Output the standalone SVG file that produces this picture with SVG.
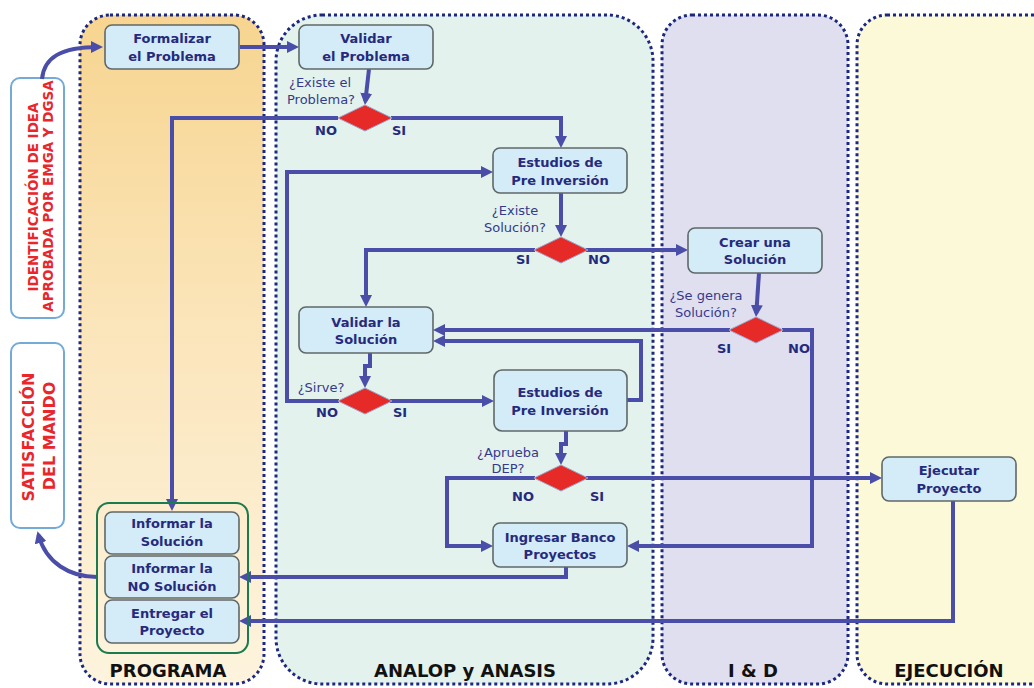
<svg xmlns="http://www.w3.org/2000/svg" width="1034" height="688" viewBox="0 0 1034 688">
<defs>
<linearGradient id="gProg" x1="0" y1="0" x2="0" y2="1">
<stop offset="0" stop-color="#f7d590"/>
<stop offset="0.5" stop-color="#fbe6bd"/>
<stop offset="1" stop-color="#fdf4de"/>
</linearGradient>
<marker id="arr" viewBox="0 0 12 12" markerWidth="12" markerHeight="12" refX="8" refY="6" orient="auto" markerUnits="userSpaceOnUse">
<path d="M0,0 L12,6 L0,12 z" fill="#4a4ea8"/>
</marker>
<style>
.lane{stroke:#1c2880;stroke-width:3;stroke-dasharray:3 3}
.title{font-family:"DejaVu Sans",Verdana,sans-serif;font-weight:bold;font-size:18px;fill:#111;text-anchor:middle}
.node rect{fill:#d4ebf8;stroke:#5f6868;stroke-width:1.6}
.nt{font-family:"DejaVu Sans",Verdana,sans-serif;font-weight:bold;font-size:13px;fill:#262a7c;text-anchor:middle}
.q{font-family:"DejaVu Sans",Verdana,sans-serif;font-size:13px;fill:#363a8c;text-anchor:middle}
.yn{font-family:"DejaVu Sans",Verdana,sans-serif;font-weight:bold;font-size:13px;fill:#262a7c}
.dia{fill:#e62a28;stroke:#9aa6cc;stroke-width:1}
.side rect{fill:#ffffff;stroke:#74aad8;stroke-width:2}
.st{font-family:"DejaVu Sans",Verdana,sans-serif;font-weight:bold;fill:#e8262b;text-anchor:middle}
.c{fill:none;stroke:#4a4ea8;stroke-width:4;marker-end:url(#arr)}
.cn{fill:none;stroke:#4a4ea8;stroke-width:4}
</style>
</defs>
<rect width="1034" height="688" fill="#ffffff"/>

<g id="lane-programa">
<rect class="lane" x="80" y="15" width="184" height="669" rx="30" fill="url(#gProg)"/>
<text class="title" x="168" y="677">PROGRAMA</text>
</g>
<g id="lane-analop">
<rect class="lane" x="276" y="15" width="377" height="669" rx="46" fill="#e3f2ec"/>
<text class="title" x="465" y="677">ANALOP y ANASIS</text>
</g>
<g id="lane-id">
<rect class="lane" x="662" y="15" width="186" height="669" rx="30" fill="#dfdff0"/>
<text class="title" x="753" y="677">I &amp; D</text>
</g>
<g id="lane-ejecucion">
<rect class="lane" x="857" y="15" width="210" height="669" rx="30" fill="#fbf9d8"/>
<text class="title" x="949" y="677">EJECUCIÓN</text>
</g>

<g id="side-identificacion" class="side">
<rect x="11" y="78" width="53" height="240" rx="9"/>
<text class="st" font-size="13.5" transform="translate(38,197) rotate(-90)">IDENTIFICACIÓN DE IDEA</text>
<text class="st" font-size="13.5" transform="translate(53,196) rotate(-90)">APROBADA POR EMGA Y DGSA</text>
</g>
<g id="side-satisfaccion" class="side">
<rect x="11" y="343" width="53" height="185" rx="9"/>
<text class="st" font-size="16" transform="translate(34,437) rotate(-90)">SATISFACCIÓN</text>
<text class="st" font-size="16" transform="translate(55,436) rotate(-90)">DEL MANDO</text>
</g>

<g id="connectors">
<path class="c" d="M42,79 C44,58 60,47 99,47"/>
<path class="c" d="M240,47 H295"/>
<path class="c" d="M369,69 L365.4,101"/>
<path class="c" d="M338,118 H172 V507"/>
<path class="c" d="M391,118 H561 V144"/>
<path class="c" d="M339,401 H287 V172 H489"/>
<path class="c" d="M561,193 V233"/>
<path class="c" d="M535,250 H366 V303"/>
<path class="c" d="M586,250 H684"/>
<path class="c" d="M759,273 L756.3,313"/>
<path class="c" d="M730,330 H437"/>
<path class="c" d="M782,330 H812 V546 H631"/>
<path class="c" d="M627,400 H641 V341 H437"/>
<path class="c" d="M370,353 V366 H365 V384"/>
<path class="c" d="M390,401 H490"/>
<path class="c" d="M566,431 V444 H561 V461"/>
<path class="c" d="M535,478 H447 V546 H489"/>
<path class="c" d="M586,478 H878"/>
<path class="c" d="M566,567 V577 H243"/>
<path class="c" d="M953,501 V621 H243"/>
<path class="c" d="M97,577 C70,577 46,563 38.5,535"/>
</g>

<g id="d-existe-problema">
<polygon class="dia" points="338,118 365,105 392,118 365,131"/>
<text class="q" x="320" y="87">¿Existe el</text>
<text class="q" x="321" y="104">Problema?</text>
<text class="yn" x="315" y="135">NO</text>
<text class="yn" x="392" y="135">SI</text>
</g>
<g id="d-existe-solucion">
<polygon class="dia" points="534,250 561,237 588,250 561,263"/>
<text class="q" x="515" y="215">¿Existe</text>
<text class="q" x="515" y="232">Solución?</text>
<text class="yn" x="516" y="264">SI</text>
<text class="yn" x="588" y="264">NO</text>
</g>
<g id="d-sirve">
<polygon class="dia" points="338,401 365,388 392,401 365,414"/>
<text class="q" x="321" y="392">¿Sirve?</text>
<text class="yn" x="316" y="417">NO</text>
<text class="yn" x="393" y="417">SI</text>
</g>
<g id="d-se-genera">
<polygon class="dia" points="729,330 756,317 783,330 756,343"/>
<text class="q" x="706" y="300">¿Se genera</text>
<text class="q" x="706" y="317">Solución?</text>
<text class="yn" x="717" y="353">SI</text>
<text class="yn" x="788" y="353">NO</text>
</g>
<g id="d-aprueba">
<polygon class="dia" points="534,478 561,465 588,478 561,491"/>
<text class="q" x="508" y="457">¿Aprueba</text>
<text class="q" x="508" y="473">DEP?</text>
<text class="yn" x="512" y="501">NO</text>
<text class="yn" x="590" y="501">SI</text>
</g>

<g id="n-formalizar" class="node">
<rect x="105" y="25" width="134" height="44" rx="7"/>
<text class="nt" x="172" y="43">Formalizar</text>
<text class="nt" x="172" y="61">el Problema</text>
</g>
<g id="n-validar-problema" class="node">
<rect x="299" y="25" width="134" height="44" rx="7"/>
<text class="nt" x="366" y="43">Validar</text>
<text class="nt" x="366" y="61">el Problema</text>
</g>
<g id="n-estudios-1" class="node">
<rect x="493" y="148" width="134" height="45" rx="7"/>
<text class="nt" x="560" y="167">Estudios de</text>
<text class="nt" x="560" y="185">Pre Inversión</text>
</g>
<g id="n-crear-solucion" class="node">
<rect x="688" y="228" width="134" height="45" rx="7"/>
<text class="nt" x="755" y="247">Crear una</text>
<text class="nt" x="755" y="264">Solución</text>
</g>
<g id="n-validar-solucion" class="node">
<rect x="299" y="307" width="134" height="46" rx="7"/>
<text class="nt" x="366" y="327">Validar la</text>
<text class="nt" x="366" y="344">Solución</text>
</g>
<g id="n-estudios-2" class="node">
<rect x="494" y="370" width="133" height="61" rx="8"/>
<text class="nt" x="560" y="397">Estudios de</text>
<text class="nt" x="560" y="415">Pre Inversión</text>
</g>
<g id="n-ingresar-banco" class="node">
<rect x="493" y="523" width="134" height="44" rx="7"/>
<text class="nt" x="560" y="542">Ingresar Banco</text>
<text class="nt" x="560" y="559">Proyectos</text>
</g>
<g id="n-ejecutar" class="node">
<rect x="882" y="457" width="134" height="44" rx="7"/>
<text class="nt" x="949" y="475">Ejecutar</text>
<text class="nt" x="949" y="493">Proyecto</text>
</g>

<g id="g-programa-salidas">
<rect x="97" y="503" width="151" height="150" rx="12" fill="none" stroke="#1c7a50" stroke-width="2"/>
</g>
<g id="n-informar-solucion" class="node">
<rect x="105" y="512" width="134" height="42" rx="7"/>
<text class="nt" x="172" y="528">Informar la</text>
<text class="nt" x="172" y="546">Solución</text>
</g>
<g id="n-informar-no-solucion" class="node">
<rect x="105" y="556" width="134" height="42" rx="7"/>
<text class="nt" x="172" y="573">Informar la</text>
<text class="nt" x="172" y="591">NO Solución</text>
</g>
<g id="n-entregar-proyecto" class="node">
<rect x="105" y="600" width="134" height="43" rx="7"/>
<text class="nt" x="172" y="618">Entregar el</text>
<text class="nt" x="172" y="635">Proyecto</text>
</g>
</svg>
